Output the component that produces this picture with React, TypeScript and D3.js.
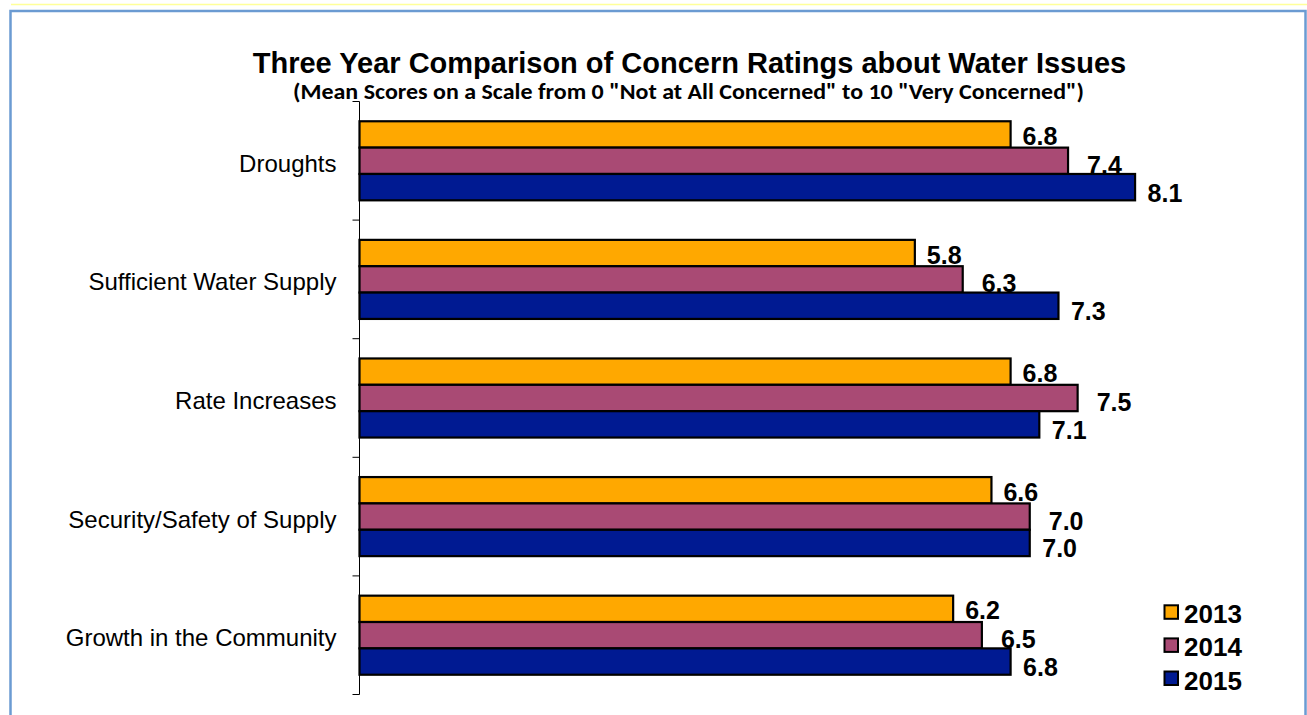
import React from "react";
import * as d3 from "d3";

const categories = [
  "Droughts",
  "Sufficient Water Supply",
  "Rate Increases",
  "Security/Safety of Supply",
  "Growth in the Community",
];
const seriesNames = ["2013", "2014", "2015"];
const values2013 = [6.8, 5.8, 6.8, 6.6, 6.2];
const values2014 = [7.4, 6.3, 7.5, 7.0, 6.5];
const values2015 = [8.1, 7.3, 7.1, 7.0, 6.8];
const seriesValues = [values2013, values2014, values2015];
const colors = ["#FFA800", "#A94A74", "#001A92"];

const title = "Three Year Comparison of Concern Ratings about Water Issues";
const subtitle = '(Mean Scores on a Scale from 0 "Not at All Concerned" to 10 "Very Concerned")';

// label nudges per series (style)
const labelDx = [12, 19, 12.5];
const labelDy = [1.5, 4, 5.4];

const W = 1307;
const H = 715;

export default function App() {
  const axisX = 359.5;
  const y = d3
    .scaleBand<string>()
    .domain(categories)
    .range([101.5, 694.5])
    .paddingInner(1 / 3)
    .paddingOuter(1 / 6);
  const ySub = d3
    .scaleBand<string>()
    .domain(seriesNames)
    .range([0, y.bandwidth()]);
  const x = d3.scaleLinear().domain([0, 10]).range([axisX, axisX + 957.5]);

  const step = y.step();
  const tickYs = d3.range(categories.length + 1).map((i) => 101.5 + i * step);

  const font = "'Liberation Sans', Arial, Helvetica, sans-serif";

  return (
    <svg
      width={W}
      height={H}
      style={{ position: "absolute", left: 0, top: 0, background: "#fff" }}
    >
      <rect x={0} y={0} width={W} height={H} fill="#fff" />
      <line x1={11} x2={W} y1={4.5} y2={4.5} stroke="#FFFF99" strokeWidth={1.5} />
      <rect
        x={10.5}
        y={11}
        width={1295}
        height={730}
        fill="none"
        stroke="#6B9BD2"
        strokeWidth={2.5}
      />

      <text
        x={689.5}
        y={72.5}
        textAnchor="middle"
        fontFamily={font}
        fontWeight="bold"
        fontSize={29}
        fill="#000"
      >
        {title}
      </text>
      <text
        x={688.5}
        y={99}
        textAnchor="middle"
        fontFamily="Carlito, Calibri, Lato, 'Open Sans', sans-serif"
        fontWeight="bold"
        fontSize={22}
        textLength={791}
        lengthAdjust="spacingAndGlyphs"
        fill="#000"
      >
        {subtitle}
      </text>

      {/* bars */}
      {categories.map((c, ci) => (
        <g key={c} transform={`translate(0,${y(c)})`}>
          {seriesNames.map((s, si) => {
            const v = seriesValues[si][ci];
            return (
              <rect
                key={s}
                x={x(0)}
                y={ySub(s)}
                width={x(v) - x(0)}
                height={ySub.bandwidth()}
                fill={colors[si]}
                stroke="#000"
                strokeWidth={2.2}
              />
            );
          })}
        </g>
      ))}

      {/* axis */}
      <line x1={axisX} x2={axisX} y1={tickYs[0]} y2={tickYs[tickYs.length - 1]} stroke="#000" strokeWidth={1} />
      {tickYs.map((ty, i) => (
        <line key={i} x1={axisX - 7} x2={axisX} y1={ty} y2={ty} stroke="#000" strokeWidth={1} />
      ))}

      {/* category labels */}
      {categories.map((c) => (
        <text
          key={c}
          x={336.5}
          y={(y(c) as number) + y.bandwidth() / 2 + 11}
          textAnchor="end"
          fontFamily={font}
          fontSize={24}
          fill="#000"
        >
          {c}
        </text>
      ))}

      {/* value labels */}
      {categories.map((c, ci) =>
        seriesNames.map((s, si) => {
          const v = seriesValues[si][ci];
          const cy = (y(c) as number) + (ySub(s) as number) + ySub.bandwidth() / 2;
          return (
            <text
              key={c + s}
              x={x(v) + labelDx[si]}
              y={cy + labelDy[si] + 9}
              fontFamily={font}
              fontWeight="bold"
              fontSize={25}
              fill="#000"
            >
              {d3.format(".1f")(v)}
            </text>
          );
        })
      )}

      {/* legend */}
      {seriesNames.map((s, si) => {
        const base = 623.3 + si * 33.1;
        return (
          <g key={s}>
            <rect
              x={1164.5}
              y={base - 18}
              width={13.5}
              height={13.5}
              fill={colors[si]}
              stroke="#000"
              strokeWidth={2}
            />
            <text
              x={1184}
              y={base}
              fontFamily={font}
              fontWeight="bold"
              fontSize={26}
              fill="#000"
            >
              {s}
            </text>
          </g>
        );
      })}
    </svg>
  );
}
